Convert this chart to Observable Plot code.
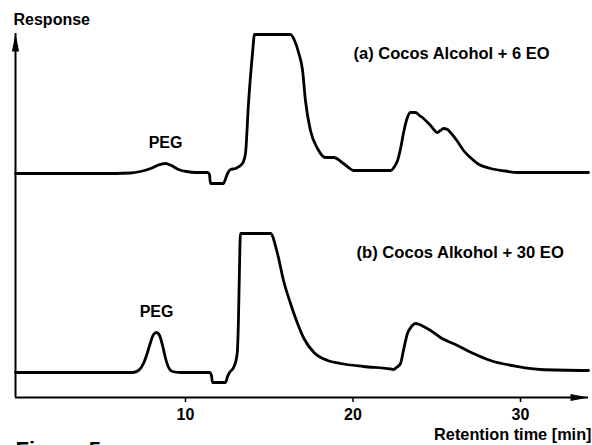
<!DOCTYPE html>
<html>
<head>
<meta charset="utf-8">
<script src="https://cdn.jsdelivr.net/npm/d3@7"></script>
<script src="https://cdn.jsdelivr.net/npm/@observablehq/plot@0.6"></script>
<style>
  html, body { margin: 0; padding: 0; background: white; }
  svg { display: block; }
  svg text { font-weight: bold; }
</style>
</head>
<body>
<div id="chart"></div>
<script>
// Retention time [min] and response (arbitrary units)
const timeA = [-0.15, 2.54, 4.93, 6.72, 7.31, 7.91, 8.39, 8.81, 9.16, 9.58, 10.06, 10.60, 11.31, 11.43, 11.49, 12.27, 12.33, 12.51, 12.69, 12.99, 13.40, 13.58, 13.76, 14.00, 14.12, 16.27, 16.51, 16.75, 16.99, 17.16, 17.46, 17.88, 18.36, 18.84, 19.43, 19.73, 20.03, 22.24, 22.48, 22.66, 22.84, 23.01, 23.19, 23.43, 23.73, 23.97, 24.21, 24.63, 25.04, 25.22, 25.40, 25.64, 25.82, 26.24, 26.60, 27.01, 27.43, 28.21, 29.10, 29.82, 34.06];
const respA = [224, 224, 224, 224.5, 226, 229, 232.5, 234, 232, 228, 226, 225, 225, 223, 214, 214, 216, 224, 228, 229, 234, 244, 294, 344, 363, 363, 357, 345, 327, 297, 267, 249, 240, 240, 234, 230, 227, 227, 231, 237, 249, 264, 277, 285, 285, 282, 279, 272, 265, 267, 269, 268, 265, 256, 247, 240, 234, 229, 226.5, 225, 225];

const timeB = [-0.15, 4.93, 6.84, 7.19, 7.49, 7.73, 7.91, 8.09, 8.27, 8.45, 8.63, 8.81, 8.99, 9.22, 9.70, 11.43, 11.55, 11.61, 12.39, 12.51, 12.63, 12.87, 13.04, 13.10, 13.16, 13.22, 13.28, 15.07, 15.49, 15.85, 16.27, 16.69, 17.07, 17.67, 18.48, 19.25, 20.63, 22.24, 22.42, 22.60, 22.84, 23.01, 23.25, 23.49, 23.73, 23.97, 24.21, 24.63, 25.22, 26.24, 27.19, 28.21, 29.82, 31.19, 34.06];
const respB = [25, 25, 25, 27, 34, 45, 55, 63, 65, 62, 52, 39, 30, 26, 25, 25, 22, 15, 15, 21, 25, 30, 39, 47, 77, 127, 164, 164, 144, 117, 94, 74, 59, 45, 37, 34, 31, 28.5, 28, 30, 34, 47, 64, 71, 74, 73, 71, 67, 60, 52, 44, 37, 31, 28, 27];

const seriesLabels = ["(a) Cocos Alcohol + 6 EO", "(b) Cocos Alkohol + 30 EO"];
const peakLabel = "PEG";
const xTicks = [10, 20, 30];
const xDomain = [-0.15, 34.06];
const yDomain = [0, 364];
const yTitle = "Response";
const xTitle = "Retention time [min]";
const caption = "Figure 5";

const traceA = timeA.map((t, i) => ({t, r: respA[i], s: "a"}));
const traceB = timeB.map((t, i) => ({t, r: respB[i], s: "b"}));

// PEG peaks: maximum in the 7–10 min window of each trace
const pegPeaks = [traceA, traceB].map(tr => d3.greatest(tr.filter(d => d.t > 7 && d.t < 10), d => d.r));

// Narrow filled arrowhead with its tip at the origin, pointing up
const arrowHead = {
  draw(context) {
    context.moveTo(0, 0);
    context.lineTo(-3.6, 18);
    context.lineTo(3.6, 18);
    context.closePath();
  }
};

const font = "'Liberation Sans', Arial, Helvetica, sans-serif";

const chart = Plot.plot({
  width: 592,
  height: 445,
  marginLeft: 15,
  marginRight: 4,
  marginTop: 33,
  marginBottom: 48,
  style: {fontFamily: font, background: "white", color: "black", overflow: "hidden"},
  x: {domain: xDomain},
  y: {domain: yDomain, axis: null},
  marks: [
    Plot.ruleY([yDomain[0]], {stroke: "black", strokeWidth: 2}),
    Plot.ruleX([xDomain[0]], {stroke: "black", strokeWidth: 2}),
    Plot.dot([{x: xDomain[1], y: yDomain[0]}], {x: "x", y: "y", symbol: arrowHead, fill: "black", stroke: null, r: 5, rotate: 90}),
    Plot.dot([{x: xDomain[0], y: yDomain[1]}], {x: "x", y: "y", symbol: arrowHead, fill: "black", stroke: null, r: 5}),
    Plot.axisX({ticks: xTicks, tickSize: 5, tickPadding: 6, fontSize: 16, fontWeight: "bold", label: null, tickFormat: d => String(d), strokeWidth: 1.5}),
    Plot.line(traceA, {x: "t", y: "r", stroke: "black", strokeWidth: 2.8, curve: "monotone-x", strokeLinejoin: "round"}),
    Plot.line(traceB, {x: "t", y: "r", stroke: "black", strokeWidth: 2.8, curve: "monotone-x", strokeLinejoin: "round"}),
    Plot.text(pegPeaks, {x: "t", y: "r", text: () => peakLabel, dy: -21, lineAnchor: "middle", fontSize: 16, fontWeight: "bold"}),
    Plot.text([seriesLabels[0]], {x: () => 20.03, y: () => 344, text: d => d, textAnchor: "start", lineAnchor: "middle", fontSize: 16.5, fontWeight: "bold"}),
    Plot.text([seriesLabels[1]], {x: () => 20.21, y: () => 145, text: d => d, textAnchor: "start", lineAnchor: "middle", fontSize: 16.6, fontWeight: "bold"}),
    Plot.text([yTitle], {frameAnchor: "top-left", text: d => d, textAnchor: "start", lineAnchor: "top", dx: -2, dy: -20, fontSize: 16, fontWeight: "bold"}),
    Plot.text([xTitle], {frameAnchor: "bottom-right", text: d => d, textAnchor: "end", lineAnchor: "top", dx: 3, dy: 31, fontSize: 16.3, fontWeight: "bold"}),
    Plot.text([caption], {frameAnchor: "bottom-left", text: d => d, textAnchor: "start", lineAnchor: "top", dx: 0, dy: 44, fontSize: 22, fontWeight: "bold"})
  ]
});

document.getElementById("chart").appendChild(chart);
</script>
</body>
</html>
